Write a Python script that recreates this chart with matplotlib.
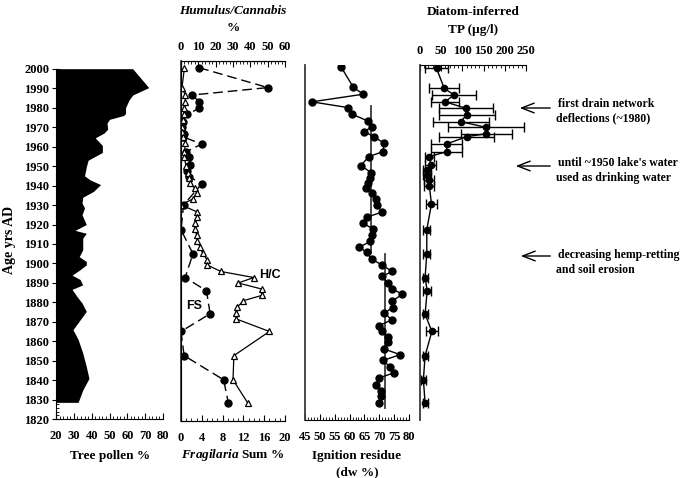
import matplotlib
matplotlib.use('Agg')
import matplotlib.pyplot as plt
from matplotlib.ticker import MultipleLocator
from matplotlib.patches import FancyArrowPatch

plt.rcParams['font.family'] = ['Liberation Serif', 'DejaVu Serif']
plt.rcParams['font.weight'] = 'bold'
plt.rcParams['mathtext.fontset'] = 'custom'
plt.rcParams['mathtext.it'] = 'Liberation Serif:italic:bold'
plt.rcParams['mathtext.rm'] = 'Liberation Serif:bold'

# ---------------- data ----------------
# Tree pollen %
pollen_years = [2000, 1990.3, 1986.5, 1984, 1980, 1977, 1976, 1974, 1972, 1969, 1967, 1964.5,
                1960.6, 1957, 1955, 1953, 1949.6, 1945, 1943, 1940.5, 1937, 1934, 1931, 1928.5,
                1925, 1920, 1917, 1915.5, 1913, 1907, 1903.5, 1901, 1899.3, 1896.8, 1894,
                1891.8, 1889, 1886.7, 1883, 1879.7, 1875.4, 1871, 1866, 1861, 1854, 1847,
                1841, 1835, 1828.7]
pollen_vals = [63, 72, 63, 61, 59, 59, 58, 50, 48.6, 49, 47, 42,
               46, 46, 42, 38, 37, 36, 39, 45, 41, 35, 34.6, 36,
               34.6, 37, 30.7, 37, 35, 35, 33, 37, 37, 33.5, 29,
               33.5, 35, 29, 31.8, 34.6, 37, 33.5, 29.5, 32.4, 35, 37,
               38.5, 35, 32.4]

# Fragilaria sum % (FS, circles, bottom axis)
fs_years = [2000.5, 1990.3, 1986.5, 1983.0, 1979.7, 1976.5, 1972.8, 1969.9, 1966.6, 1965.1,
            1961.3, 1957.4, 1954.9, 1950.6, 1947.5, 1944.5, 1940.9, 1930.1, 1917.3, 1905.0,
            1892.8, 1886.0, 1874.2, 1865.1, 1852.7, 1840.3, 1828.4]
fs_vals = [3.5, 16.7, 2.2, 3.5, 3.5, 1.2, 0.3, 0.2, 0.5, 0.3,
           4.0, 1.0, 1.5, 1.8, 1.2, 1.6, 4.0, 0.5, 0.0, 2.3,
           0.8, 4.9, 5.6, 0.0, 0.6, 8.2, 9.1]

# Humulus/Cannabis % (H/C, triangles, top axis)
hc_years = [2000.5, 1990.0, 1986.5, 1983.0, 1980.0, 1977.0, 1973.5, 1970.3, 1967.7, 1965.1,
            1961.7, 1957.4, 1954.9, 1950.3, 1946.7, 1943.8, 1941.2, 1938.7, 1936.1, 1933.2,
            1930.1, 1926.4, 1923.8, 1920.7, 1917.6, 1914.7, 1911.3, 1908.4, 1905.3, 1901.9,
            1899.3, 1895.9, 1892.8, 1890.0, 1886.9, 1883.6, 1880.9, 1877.6, 1874.6, 1871.5,
            1865.1, 1852.7, 1840.3, 1828.4]
hc_vals = [2, 0.5, 2.5, 2.5, 2, 1.5, 1, 0.5, 0.5, 1,
           2.5, 2, 1.5, 3, 4, 4.5, 5, 8, 9, 7,
           0, 9.5, 9, 8, 8, 9, 9.5, 11, 12.5, 15,
           15, 23, 42, 33, 46.5, 46.5, 36, 32.5, 32, 32,
           51, 30.5, 30, 38.5]

# Ignition residue (dw %)
ign_years = [2001, 1990.4, 1986.9, 1983, 1980, 1976.6, 1973.2, 1970.3, 1967.7, 1965.1,
             1961.7, 1957.4, 1954.9, 1950.3, 1946.7, 1943.8, 1941.2, 1938.7, 1936.1, 1933.2,
             1930.1, 1926.4, 1923.8, 1920.7, 1917.6, 1914.7, 1911.3, 1908.4, 1905.7, 1902.3,
             1899.3, 1895.9, 1893.5, 1889.9, 1886.8, 1884.3, 1880.5, 1877.4, 1874.6, 1871.1,
             1868.1, 1865.1, 1862.3, 1859.5, 1856.1, 1853.2, 1850.3, 1846.7, 1843.8, 1841.2,
             1837.8, 1834.4, 1831.8, 1828.4]
ign_vals = [57.1, 61.3, 64.6, 47.3, 59.6, 60.9, 66.1, 67.7, 64.9, 68.2,
            71.7, 71.2, 66.5, 63.8, 67.2, 67.0, 66.3, 65.4, 67.4, 68.9,
            69.1, 71.0, 65.8, 64.6, 68.0, 67.5, 66.9, 63.3, 65.8, 67.4,
            70.8, 74.4, 71.0, 72.8, 74.4, 77.8, 74.2, 74.6, 71.7, 74.2,
            69.9, 70.8, 72.8, 73.0, 71.7, 77.0, 71.4, 73.6, 74.8, 69.8,
            69.0, 70.6, 70.6, 69.8]
ign_mean_vals = [67.2, 71.9]
ign_mean_from = [1905.5, 1826.0]
ign_mean_to = [1981.0, 1905.0]

# Diatom-inferred TP (ug/l)
tp_years = [2000.2, 1990.0, 1986.5, 1983.0, 1979.7, 1976.3, 1972.8, 1969.9, 1966.6, 1965.1,
            1961.4, 1957.4, 1954.9, 1950.6, 1948.0, 1945.5, 1943.0, 1940.0, 1930.6, 1917.3,
            1905.0, 1892.8, 1886.0, 1874.0, 1865.1, 1852.7, 1840.3, 1828.4]
tp_vals = [39, 57, 80, 59, 108, 110, 96, 156, 156, 110,
           63, 63, 22, 25, 17, 17, 22, 22, 27, 16,
           16, 12, 17, 12, 28, 12, 8, 12]
tp_err = [28, 36, 52, 33, 64, 66, 66, 90, 60, 65,
          36, 36, 10, 13, 10, 10, 12, 12, 14, 8,
          8, 6, 10, 6, 14, 6, 5, 6]

pollen_ticks = [20, 30, 40, 50, 60, 70, 80]
fs_ticks = [0, 4, 8, 12, 16, 20]
hc_ticks = [0, 10, 20, 30, 40, 50, 60]
ign_ticks = [45, 50, 55, 60, 65, 70, 75, 80]
tp_ticks = [0, 50, 100, 150, 200, 250]
year_ticks = list(range(1820, 2001, 10))

# ---------------- layout ----------------
W, H = 687, 478
fig = plt.figure(figsize=(6.87, 4.78), dpi=100)
PXY = 1.948
Y2000 = 68.7


def yr(py):
    return 2000 - (py - Y2000) / PXY


def add_axes(x0, x1, ytop, ybot):
    ax = fig.add_axes([x0 / W, 1 - ybot / H, (x1 - x0) / W, (ybot - ytop) / H])
    ax.set_ylim(yr(ybot), yr(ytop))
    ax.patch.set_alpha(0)
    return ax


def ftext(x, y, s, **kw):
    kw.setdefault('ha', 'center')
    kw.setdefault('va', 'center')
    kw.setdefault('fontsize', 9.5)
    fig.text(x / W, 1 - y / H, s, **kw)


TICKFS = 9
GRAY = '#3a3a3a'
MS = 5

# Panel 1: tree pollen
ax1 = add_axes(56, 163, 66, 419.3)
ax1.fill_betweenx(pollen_years, 20, pollen_vals, color='black', lw=0)
ax1.set_xlim(20, 80)
for s in ['top', 'right']:
    ax1.spines[s].set_visible(False)
ax1.spines['left'].set_bounds(1820, 2000)
ax1.set_xticks(pollen_ticks)
ax1.xaxis.set_minor_locator(MultipleLocator(2))
ax1.set_yticks(year_ticks)
ax1.yaxis.set_minor_locator(MultipleLocator(2))
ax1.tick_params(axis='x', which='major', direction='in', length=4, labelsize=TICKFS, pad=8)
ax1.tick_params(axis='x', which='minor', direction='in', length=2)
ax1.tick_params(axis='y', which='major', direction='inout', length=6, labelsize=TICKFS, pad=2)
ax1.tick_params(axis='y', which='minor', direction='in', length=2.5)
ftext(110, 456, 'Tree pollen %')
ftext(10, 240, 'Age yrs AD', rotation=90, fontsize=10)

# Panel 2: Fragilaria sum (bottom) and Humulus/Cannabis (top)
ax2 = add_axes(181, 285, 61, 420.5)
ax2.set_xlim(0, 20)
ax2t = ax2.twiny()
ax2t.set_xlim(0, 60)
ax2t.set_ylim(ax2.get_ylim())
ax2.plot(fs_vals, fs_years, color='black', lw=1, dashes=(7, 3.5), marker='o', ms=MS,
         mfc='black', mec='black')
ax2t.plot(hc_vals, hc_years, color='black', lw=0.9, marker='^', ms=MS,
          mfc='white', mec='black', mew=0.9)
for a in (ax2, ax2t):
    a.spines['right'].set_visible(False)
ax2.spines['left'].set_color(GRAY)
ax2.spines['left'].set_linewidth(1.3)
ax2.set_yticks([])
ax2.set_xticks(fs_ticks)
ax2.xaxis.set_minor_locator(MultipleLocator(1))
ax2.tick_params(axis='x', which='major', direction='in', length=4, labelsize=TICKFS, pad=8)
ax2.tick_params(axis='x', which='minor', direction='in', length=2)
ax2t.set_xticks(hc_ticks)
ax2t.xaxis.set_minor_locator(MultipleLocator(2))
ax2t.tick_params(axis='x', which='major', direction='in', length=4, labelsize=TICKFS, pad=6)
ax2t.tick_params(axis='x', which='minor', direction='in', length=2)
ftext(233, 11, 'Humulus/Cannabis', style='italic')
ftext(233, 28, '%')
ftext(233, 455, r'$\mathit{Fragilaria}$ Sum %')
ftext(259, 275, 'H/C', ha='left', family=['Liberation Sans'], fontsize=9)
ftext(186, 306, 'FS', ha='left', family=['Liberation Sans'], fontsize=9)

# Panel 3: ignition residue
ax3 = add_axes(305, 409, 65, 420)
ax3.set_xlim(45, 80)
for v, y0, y1 in zip(ign_mean_vals, ign_mean_from, ign_mean_to):
    ax3.plot([v, v], [y0, y1], color=GRAY, lw=1.3)
ax3.plot(ign_vals, ign_years, color='black', lw=1, marker='o', ms=MS)
for s in ['top', 'right']:
    ax3.spines[s].set_visible(False)
ax3.spines['left'].set_color(GRAY)
ax3.spines['left'].set_linewidth(1.3)
ax3.set_yticks([])
ax3.set_xticks(ign_ticks)
ax3.xaxis.set_minor_locator(MultipleLocator(1))
ax3.tick_params(axis='x', which='major', direction='in', length=4, labelsize=TICKFS, pad=8)
ax3.tick_params(axis='x', which='minor', direction='in', length=2)
ftext(357, 456, 'Ignition residue')
ftext(357, 472, '(dw %)')

# Panel 4: diatom-inferred TP
ax4 = add_axes(420, 526, 65, 420)
ax4.set_xlim(0, 250)
ax4.errorbar(tp_vals, tp_years, xerr=tp_err, fmt='-o', color='black', ms=4.5, lw=1,
             elinewidth=1, capsize=3.5, capthick=1)
for s in ['bottom', 'right']:
    ax4.spines[s].set_visible(False)
ax4.spines['left'].set_color(GRAY)
ax4.spines['left'].set_linewidth(1.3)
ax4.set_yticks([])
ax4.xaxis.tick_top()
ax4.set_xticks(tp_ticks)
ax4.xaxis.set_minor_locator(MultipleLocator(10))
ax4.tick_params(axis='x', which='major', direction='in', length=4, labelsize=TICKFS, pad=6)
ax4.tick_params(axis='x', which='minor', direction='in', length=2)
ftext(473, 12, 'Diatom-inferred')
ftext(473, 30, 'TP (\u00b5g/l)')

# Annotations with arrows
notes = [
    (108, 104, 118, 'first drain network', 'deflections (~1980)', 517),
    (166, 163, 178, "until ~1950 lake's water", 'used as drinking water', 513),
    (256, 255, 270, 'decreasing hemp-retting', 'and soil erosion', 518),
]
for ya, y1, y2, t1, t2, xh in notes:
    arr = FancyArrowPatch((553 / W, 1 - ya / H), (xh / W, 1 - ya / H), transform=fig.transFigure,
                          arrowstyle='->,head_length=0.9,head_width=0.35', mutation_scale=10,
                          lw=1, color='black')
    fig.add_artist(arr)
    ftext(558, y1, t1, ha='left', fontsize=8.5)
    ftext(556, y2, t2, ha='left', fontsize=8.5)

fig.savefig('out.png', dpi=100)
